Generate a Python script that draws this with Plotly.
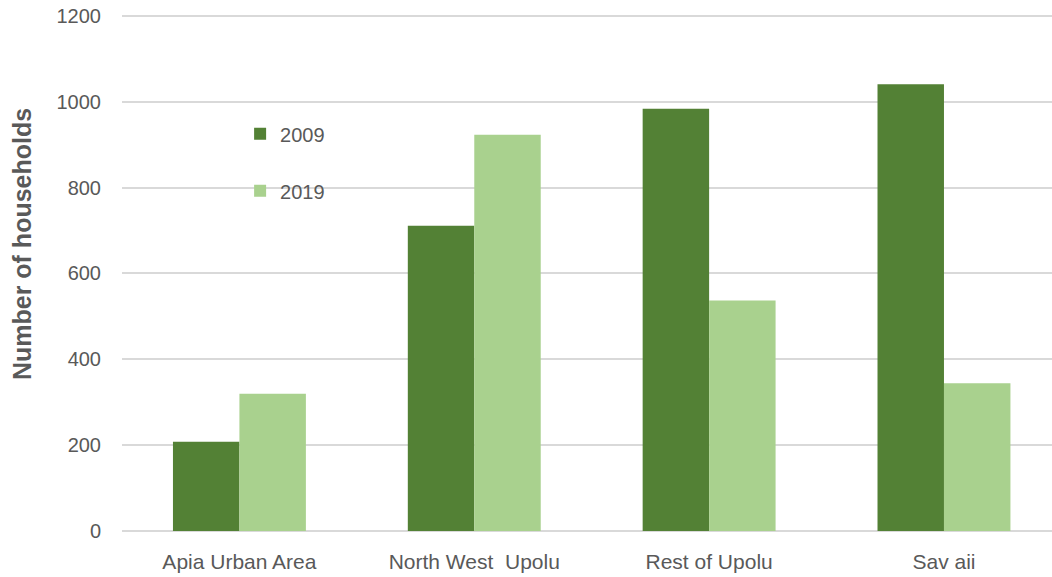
import plotly.graph_objects as go

categories = ["Apia Urban Area", "North West  Upolu", "Rest of Upolu", "Sav aii"]
series_names = ["2009", "2019"]
values_2009 = [208, 711, 984, 1041]
values_2019 = [320, 923, 537, 344]
colors = ["#538135", "#A9D18E"]
y_ticks = [0, 200, 400, 600, 800, 1000, 1200]

fig = go.Figure()
for name, vals, col in zip(series_names, [values_2009, values_2019], colors):
    fig.add_trace(go.Bar(x=categories, y=vals, name=name, marker_color=col,
                         marker_line_width=0, legendgroup=name))

W, H = 1052, 577
fig.update_layout(
    width=W, height=H,
    margin=dict(l=122, r=0, t=14, b=46, autoexpand=False),
    plot_bgcolor="white", paper_bgcolor="white",
    barmode="group", bargap=0.434, bargroupgap=0,
    font=dict(family="Liberation Sans, Arial", color="#595959", size=20),
    legend=dict(x=0.127, y=0.806, xanchor="left", yanchor="top",
                bgcolor="rgba(0,0,0,0)", font=dict(size=20, color="#595959"),
                traceorder="grouped", tracegroupgap=28, itemwidth=30),
    showlegend=True,
)
fig.update_xaxes(range=[-0.5, 3.46], showgrid=False, showline=False,
                 ticks="", automargin=False, ticklabelstandoff=16,
                 tickfont=dict(size=21, color="#595959"))
fig.update_yaxes(range=[0, 1204.5], tickvals=y_ticks, showgrid=True,
                 gridcolor="#D9D9D9", gridwidth=2, zeroline=True,
                 zerolinecolor="#D9D9D9", zerolinewidth=2,
                 ticks="", ticklabelstandoff=20, automargin=False,
                 ticklabeloverflow="allow",
                 tickfont=dict(size=20, color="#595959"))
fig.add_annotation(text="<b>Number of households</b>", textangle=-90,
                   xref="paper", yref="paper", x=-0.1075, y=0.555,
                   xanchor="center", yanchor="middle", showarrow=False,
                   font=dict(size=25, color="#595959"))
fig.write_html("out.html", config={"displayModeBar": False},
               post_script="document.body.style.margin='0';document.body.style.overflow='hidden';")
